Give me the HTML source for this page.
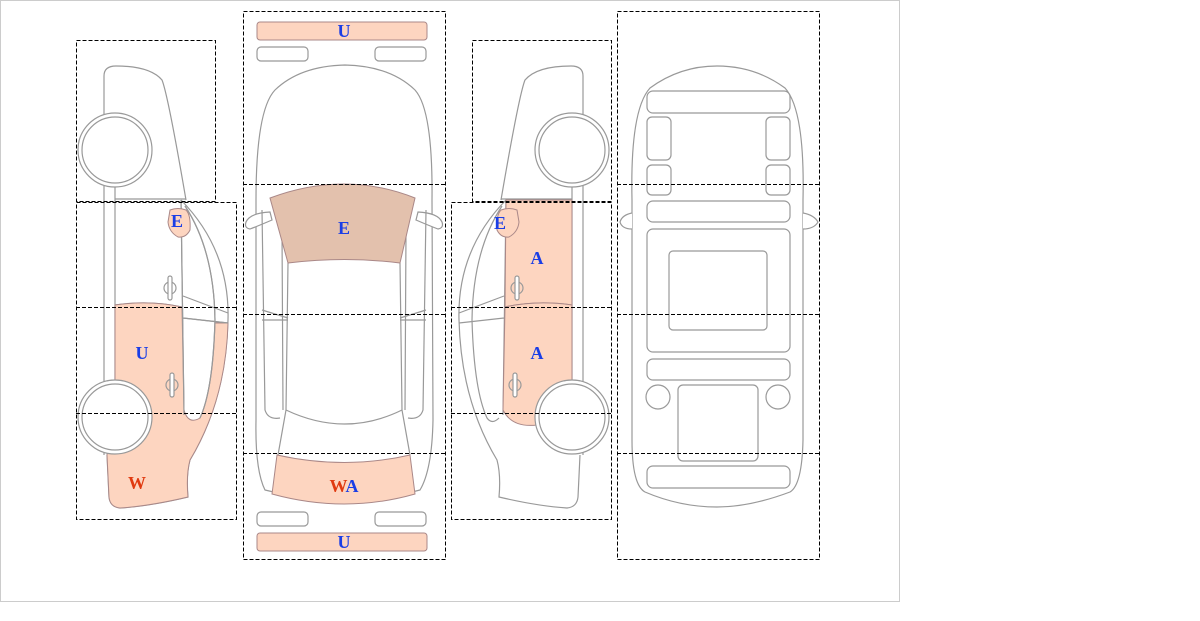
<!DOCTYPE html>
<html><head><meta charset="utf-8"><style>
html,body{margin:0;padding:0;background:#fff;width:1200px;height:621px;overflow:hidden}
svg{display:block}
text{font-family:"Liberation Serif",serif;font-weight:bold;font-size:18px;text-anchor:middle}
.b{fill:#1a3ee6}.r{fill:#e03a10}
.s{fill:none;stroke:#999;stroke-width:1.2}
.w{fill:#fff;stroke:#999;stroke-width:1.2}
.o{fill:#fdd5c0;stroke:#a88;stroke-width:1}
.d{fill:none;stroke:#000;stroke-width:1;stroke-dasharray:4,2}
</style></head><body>
<svg width="1200" height="621" viewBox="0 0 1200 621" xmlns="http://www.w3.org/2000/svg">
<rect x="0.5" y="0.5" width="899" height="601" fill="#fff" stroke="#ccc"/>
<defs>
<g id="side">
 <path class="w" d="M104,185 L104,76 Q104,66 116,66 Q150,66 162,80 Q168,95 186,200"/>
 <path class="s" d="M104,185 L104,455 M115,185 L115,390 M115,199 L186,199"/>
 <path class="s" d="M181,200 Q230,250 228,320 Q226,400 190,460 Q186,475 188,497 Q150,506 120,508 Q110,507 109,497 L107,455"/>
 <path class="s" d="M185,206 Q214,250 215,320 Q213,390 200,418 Q195,425 188,418"/>
 <path class="s" d="M181,200 L184,415 M183,296 L228,313 M183,318 L228,323 M115,305 Q150,300 182,307"/>
</g>
<g id="wheels">
 <circle class="w" cx="115" cy="150" r="37"/><circle class="w" cx="115" cy="150" r="33"/>
 <circle class="w" cx="115" cy="417" r="37"/><circle class="w" cx="115" cy="417" r="33"/>
</g>
<g id="handles">
 <circle class="s" cx="170" cy="288" r="6"/><rect class="w" x="168" y="276" width="4" height="24" rx="2"/>
 <circle class="s" cx="172" cy="385" r="6"/><rect class="w" x="170" y="373" width="4" height="24" rx="2"/>
</g>
</defs>

<use href="#side"/>
<path class="o" d="M115,305 Q150,300 182,307 L184,410 Q188,425 200,418 Q213,390 215,323 L228,323 Q226,400 190,460 Q186,475 188,497 Q150,506 120,508 Q110,507 109,497 L107,455 L115,380 Z"/>
<path class="s" d="M181,200 L184,415 M183,318 L228,323 M185,206 Q214,250 215,320 Q213,390 200,418"/>
<path class="o" d="M170,210 Q178,207 186,210 Q191,215 190,230 Q186,238 178,237 Q169,232 168,222 Z"/>
<use href="#wheels"/>
<use href="#handles"/>

<g transform="translate(687,0) scale(-1,1)">
 <use href="#side"/>
 <path class="o" d="M115,200 L181,200 L182,307 Q150,300 115,305 Z"/>
 <path class="o" d="M115,305 Q150,300 182,307 L184,410 Q175,428 150,425 L115,385 Z"/>
 <path class="o" d="M170,210 Q178,207 186,210 Q191,215 190,230 Q186,238 178,237 Q169,232 168,222 Z"/>
 <use href="#wheels"/>
 <use href="#handles"/>
</g>

<rect class="o" x="257" y="22" width="170" height="18" rx="3"/>
<rect class="w" x="257" y="47" width="51" height="14" rx="4"/>
<rect class="w" x="375" y="47" width="51" height="14" rx="4"/>
<rect class="w" x="257" y="512" width="51" height="14" rx="4"/>
<rect class="w" x="375" y="512" width="51" height="14" rx="4"/>
<rect class="o" x="257" y="533" width="170" height="18" rx="3"/>
<path class="s" d="M256,200 Q256,110 275,90 Q300,66 345,65 Q390,66 415,90 Q433,110 432,200 L433,420 Q432,470 420,490 Q345,510 265,490 Q255,470 256,420 Z"/>
<path class="w" d="M246,222 Q250,213 270,212 L272,220 Q258,226 250,229 Q244,228 246,222 Z"/>
<path class="w" d="M442,222 Q438,213 418,212 L416,220 Q430,226 438,229 Q444,228 442,222 Z"/>
<path class="s" d="M262,210 L265,410 Q268,420 280,418 M282,230 L283,410 M426,210 L423,410 Q420,420 408,418 M406,230 L405,410"/>
<path class="s" d="M288,263 L286,410 Q345,438 402,410 L400,263 M286,410 L278,455 M402,410 L410,455"/>
<path class="s" d="M262,310 L288,318 M262,320 L288,320 M426,310 L400,318 M426,320 L400,320"/>
<path fill="#e3c1ad" stroke="#a88" d="M270,198 Q345,170 415,198 L400,263 Q345,256 288,263 Z"/>
<path class="o" d="M277,455 Q345,470 410,455 L415,494 Q345,514 272,494 Z"/>

<path class="s" d="M632,200 Q630,110 650,88 Q680,66 717,66 Q755,66 785,88 Q805,110 803,200 L803,440 Q802,485 790,492 Q750,507 717,507 Q680,507 645,492 Q632,485 632,440 Z"/>
<path class="w" d="M632,213 Q622,215 620,222 Q622,229 632,229"/>
<path class="w" d="M803,213 Q814,215 818,222 Q814,229 803,229"/>
<rect class="w" x="647" y="91" width="143" height="22" rx="6"/>
<rect class="w" x="647" y="117" width="24" height="43" rx="5"/>
<rect class="w" x="766" y="117" width="24" height="43" rx="5"/>
<rect class="w" x="647" y="165" width="24" height="30" rx="5"/>
<rect class="w" x="766" y="165" width="24" height="30" rx="5"/>
<rect class="w" x="647" y="201" width="143" height="21" rx="6"/>
<rect class="w" x="647" y="229" width="143" height="123" rx="6"/>
<rect class="w" x="669" y="251" width="98" height="79" rx="4"/>
<rect class="w" x="647" y="359" width="143" height="21" rx="6"/>
<circle class="w" cx="658" cy="397" r="12"/>
<circle class="w" cx="778" cy="397" r="12"/>
<rect class="w" x="678" y="385" width="80" height="76" rx="5"/>
<rect class="w" x="647" y="466" width="143" height="22" rx="6"/>

<rect class="d" x="76.5" y="40.5" width="139" height="161"/>
<rect class="d" x="76.5" y="202.5" width="160" height="317"/>
<path class="d" d="M76,307.5 H236 M76,413.5 H236"/>
<rect class="d" x="243.5" y="11.5" width="202" height="548"/>
<path class="d" d="M243,184.5 H445 M243,314.5 H445 M243,453.5 H445"/>
<rect class="d" x="472.5" y="40.5" width="139" height="161"/>
<rect class="d" x="451.5" y="202.5" width="160" height="317"/>
<path class="d" d="M451,307.5 H611 M451,413.5 H611"/>
<rect class="d" x="617.5" y="11.5" width="202" height="548"/>
<path class="d" d="M617,184.5 H820 M617,314.5 H820 M617,453.5 H820"/>

<text class="b" x="344" y="37">U</text>
<text class="b" x="344" y="234">E</text>
<text x="344" y="492"><tspan class="r">W</tspan><tspan class="b">A</tspan></text>
<text class="b" x="344" y="548">U</text>
<text class="b" x="177" y="227">E</text>
<text class="b" x="142" y="359">U</text>
<text class="r" x="137" y="489">W</text>
<text class="b" x="500" y="229">E</text>
<text class="b" x="537" y="264">A</text>
<text class="b" x="537" y="359">A</text>
</svg>
</body></html>
